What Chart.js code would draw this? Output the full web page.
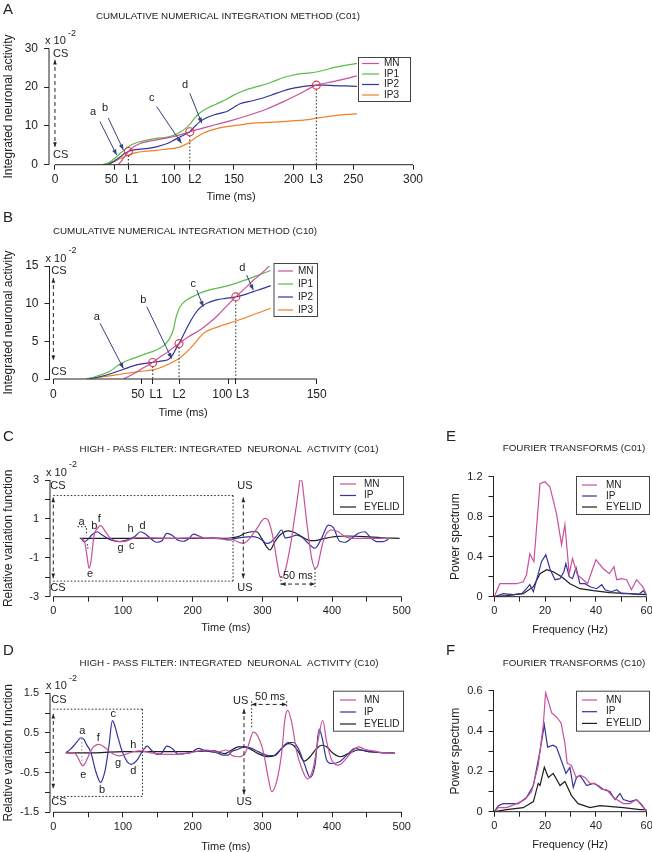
<!DOCTYPE html>
<html>
<head>
<meta charset="utf-8">
<script src="https://cdn.jsdelivr.net/npm/chart.js@4.4.1/dist/chart.umd.min.js"></script>
<style>
  html, body { margin: 0; padding: 0; background: #fff; }
  #wrap { position: relative; width: 652px; height: 852px; overflow: hidden; }
  canvas { position: absolute; left: 0; top: 0; }
</style>
</head>
<body>
<div id="wrap">
  <canvas id="cA" width="652" height="852"></canvas>
  <canvas id="cB" width="652" height="852"></canvas>
  <canvas id="cC" width="652" height="852"></canvas>
  <canvas id="cD" width="652" height="852"></canvas>
  <canvas id="cE" width="652" height="852"></canvas>
  <canvas id="cF" width="652" height="852"></canvas>
</div>
<script>
// ---------- A: cumulative integration (C01), values in 10^-2 ----------
const aTicks = [0, 50, 61.5, 100, 113, 150, 200, 219, 250, 300];
const aTickLabels = ['0', '50  ', '  L1', '100  ', '   L2', '150', '200', 'L3', '250', '300'];
const aYTicks = [0, 10, 20, 30];
const aYLabels = ['0', '10', '20', '30'];
const aMNx = [53, 57, 61.5, 66, 71, 78, 85, 92, 99, 106, 113, 120, 127, 138, 149, 163, 177, 191, 205, 219, 233, 243, 253];
const aMNy = [0, 1.5, 3.4, 4.6, 5.4, 6.0, 6.4, 6.8, 7.2, 7.8, 8.5, 9.1, 9.7, 10.6, 11.5, 12.8, 14.3, 16.2, 18.3, 20.5, 21.4, 22.1, 22.9];
const aIP1x = [40, 45, 50, 55, 61.5, 66, 71, 78, 85, 92, 99, 105, 110, 113, 117, 121.5, 128, 135, 142, 149, 156, 163, 170, 177, 184, 191, 198, 205, 212, 219, 226, 233, 243, 253];
const aIP1y = [0, 0.5, 1.6, 3.0, 4.6, 5.4, 5.9, 6.4, 6.8, 7.0, 7.5, 8.4, 9.5, 10.4, 12.0, 13.4, 14.6, 15.6, 16.6, 17.8, 18.8, 19.6, 20.2, 20.8, 21.6, 22.4, 23.0, 23.4, 23.6, 23.9, 24.4, 25.0, 25.6, 26.1];
const aIP2x = [43, 48, 54.5, 58, 61.5, 66, 71, 78, 85, 93.5, 99, 105, 110, 113, 117, 121.5, 127, 133, 139, 144, 150, 155, 163, 172, 181, 191, 198, 205, 212, 219, 226, 233, 243, 253];
const aIP2y = [0, 0.6, 2.0, 2.8, 3.4, 3.8, 4.0, 4.2, 4.6, 5.4, 6.2, 7.2, 8.0, 8.5, 9.8, 11.1, 12.1, 12.8, 13.3, 13.7, 14.8, 15.7, 16.3, 17.0, 17.9, 19.0, 19.6, 20.0, 20.3, 20.5, 20.5, 20.4, 20.3, 20.2];
const aIP3x = [40, 48, 55, 61.5, 68, 74, 85, 93.5, 99, 105, 110, 113, 118, 124, 131, 138, 149, 158, 166, 178, 191, 205, 212, 219, 226, 233, 243, 253];
const aIP3y = [0, 0.6, 1.6, 2.5, 3.1, 3.4, 3.7, 4.0, 4.2, 4.6, 5.3, 5.9, 7.0, 8.1, 8.9, 9.5, 10.0, 10.4, 10.7, 10.9, 11.1, 11.4, 11.6, 12.0, 12.3, 12.6, 12.9, 13.1];
const aLx = [61.5, 113, 219];
const aLy = [3.4, 8.5, 20.5];
const aArrowNames = ['a', 'b', 'c', 'd'];
const aArrowText = [[32, 13.6], [42, 14.6], [81, 17.1], [109, 20.5]];
const aArrowFrom = [[37.7, 11.1], [44.7, 12.0], [85.2, 15], [113, 18.4]];
const aArrowTo = [[51.7, 2.5], [57.3, 3.8], [106, 5.5], [123, 10.7]];

// ---------- B: cumulative integration (C10) ----------
const bTicks = [0, 50, 56.6, 71.6, 100, 103.9, 150];
const bTickLabels = ['0', '50  ', '  L1', 'L2', '100    ', '    L3', '150'];
const bYTicks = [0, 5, 10, 15];
const bYLabels = ['0', '5', '10', '15'];
const bMNx = [40, 45, 50, 56.6, 60, 64.6, 68, 71.6, 77, 83.5, 88, 93, 98, 103.9, 109, 113.9, 119, 123.8];
const bMNy = [0, 0.6, 1.3, 2.2, 2.8, 3.5, 4.1, 4.7, 5.6, 6.5, 7.3, 8.3, 9.5, 10.9, 12.0, 13.1, 14.1, 15.2];
const bIP1x = [19, 25, 32, 38, 45, 52, 58, 62.7, 66, 68.3, 70, 72.2, 76, 80, 83.5, 90, 96, 102.5, 110, 117, 123.8];
const bIP1y = [0, 0.4, 1.0, 2.0, 2.7, 3.3, 3.8, 4.4, 5.3, 6.5, 8.3, 9.6, 10.5, 11.0, 11.4, 11.9, 12.2, 12.6, 13.2, 13.8, 14.4];
const bIP2x = [19, 30, 40, 48, 56.6, 62, 65.5, 68, 70, 71.6, 74, 77, 79.7, 82.5, 85.4, 89, 93, 98, 103.9, 109, 113.9, 119, 123.8];
const bIP2y = [0, 0.5, 1.3, 1.9, 2.2, 2.4, 2.6, 3.2, 4.1, 4.7, 5.8, 7.2, 8.3, 9.2, 9.8, 10.2, 10.5, 10.7, 10.9, 11.2, 11.6, 12.0, 12.4];
const bIP3x = [19, 30, 40, 49.4, 56.6, 62, 68.3, 72, 76, 80, 83.5, 87, 91, 96, 102.5, 110, 117, 123.8];
const bIP3y = [0, 0.35, 0.7, 1.0, 1.2, 1.6, 2.3, 2.8, 3.6, 4.6, 5.6, 6.3, 6.7, 7.1, 7.6, 8.2, 8.8, 9.4];
const bLx = [56.6, 71.6, 103.9];
const bLy = [2.2, 4.7, 10.9];
const bArrowNames = ['a', 'b', 'c', 'd'];
const bArrowText = [[24.7, 8.3], [51.2, 10.5], [79.7, 12.6], [107.6, 14.8]];
const bArrowFrom = [[26.6, 7.4], [53.2, 9.6], [81.7, 11.8], [110.1, 13.8]];
const bArrowTo = [[39.9, 1.4], [67.4, 2.7], [85.4, 9.6], [113.9, 11.8]];

// ---------- C / D: high-pass filtered activity ----------
const timeTicks = [0, 50, 100, 150, 200, 250, 300, 350, 400, 450, 500];
const timeLabels = ['0', '', '100', '', '200', '', '300', '', '400', '', '500'];
const cYTicks = [-3, -2, -1, 0, 1, 2, 3];
const cYLabels = ['-3', '', '-1', '', '1', '', '3'];
const cMNx = [40, 45, 48, 51.4, 54, 58.6, 63, 68, 75, 82, 92, 101, 111, 120, 140, 170, 200, 230, 250, 260, 266, 272.7, 282, 288, 294, 299, 304, 308, 311, 315, 318, 322, 325.4, 329, 332.5, 337, 342, 346, 349, 352, 354, 356.5, 358.8, 361, 363.6, 367, 370.8, 375.6, 379, 382.8, 387, 392.3, 399.5, 409, 418.7, 430, 445, 460, 480];
const cMNy = [0, -0.2, -0.8, -1.54, -1.2, 0.17, 0.5, 0.65, 0.34, 0, -0.14, -0.17, -0.05, 0.03, 0.02, 0, 0.02, 0, -0.05, -0.1, -0.2, -0.26, 0, 0.3, 0.6, 0.9, 1.03, 0.95, 0.68, 0.1, -0.51, -1.4, -1.97, -2.0, -1.71, -1.0, 0, 1.0, 1.71, 2.5, 3.0, 3.0, 2.4, 1.7, 0.86, -0.1, -1.03, -1.54, -1.45, -0.86, -0.2, 0.26, 0.43, 0.34, 0.09, 0, 0, 0, 0];
const cIPx = [40, 44, 49, 56, 63, 70, 78, 86, 94, 102, 110, 117, 125, 133, 141, 148, 156, 163, 171, 179, 187, 195, 201, 209, 218, 228, 240, 252, 262, 272, 284, 294, 300, 306, 313, 320, 327.7, 333, 340, 349, 357, 366, 375.6, 385, 394.7, 402, 411, 419, 428, 438, 447, 455, 464, 473, 481];
const cIPy = [0, -0.17, -0.08, 0.2, 0.34, 0.17, 0, -0.12, -0.17, -0.12, -0.02, 0.1, 0.34, 0.2, -0.05, -0.2, -0.12, 0.26, 0.15, -0.1, -0.15, 0, 0.22, 0.12, 0, 0.03, 0, -0.08, 0, 0.05, 0.09, 0.03, -0.1, -0.26, -0.17, 0.1, 0.43, 0.02, 0.06, 0.17, 0.05, -0.26, -0.51, 0, 0.68, 0.55, -0.15, -0.2, 0, 0.26, 0.34, 0.05, -0.17, -0.17, -0.05];
const cEYEx = [38, 100, 200, 246, 256, 265.5, 275, 284.7, 292, 299, 306, 311, 318, 325.4, 337, 347, 356.5, 366, 373, 380, 390, 404, 423, 447, 471, 497];
const cEYEy = [0, 0, 0, 0, 0.03, 0.09, 0.26, 0.34, 0.34, 0, -0.43, -0.6, -0.17, 0.17, 0.38, 0.29, 0.09, -0.09, -0.12, -0.09, 0, 0.09, 0.12, 0.09, 0.03, 0];
const cLetters = ['a', 'b', 'f', 'h', 'd', 'g', 'c', 'e'];
const cLetterX = [40.7, 59, 66, 111, 128, 96.7, 112.5, 52.7];
const cLetterY = [0.85, 0.64, 0.99, 0.47, 0.64, -0.5, -0.39, -1.84];

const dYTicks = [-1.5, -1, -0.5, 0, 0.5, 1, 1.5];
const dYLabels = ['-1.5', '', '-0.5', '', '0.5', '', '1.5'];
const dMNx = [18, 30, 34.8, 38, 42, 46, 49, 56, 65.7, 75, 84.8, 94, 103.8, 113, 125, 140, 160, 180, 201, 220.5, 235, 249, 256, 265.5, 275, 280, 287, 294, 301.4, 308.6, 313.4, 320.6, 328, 332.5, 336.4, 342, 349.3, 356.5, 365, 373, 380.4, 386.7, 392.3, 399.5, 409, 418.7, 430.6, 437.8, 447, 461.7, 476, 490];
const dMNy = [0, 0, -0.1, -0.22, -0.33, -0.26, -0.14, 0.11, 0.21, 0.12, -0.02, -0.08, -0.04, 0.02, 0.05, 0, -0.04, -0.04, 0.02, 0.07, 0.02, 0.07, -0.06, -0.1, -0.02, 0.19, 0.52, 0.4, 0.03, -0.64, -0.98, -0.72, 0.03, 0.86, 1.07, 0.78, 0.03, -0.39, -0.66, -0.39, 0.36, 0.82, 0.28, -0.18, -0.31, -0.18, 0.07, 0.15, 0.09, 0.04, 0, 0];
const dIPx = [18, 24, 30, 35, 39.5, 44, 48, 53.8, 61, 68, 72, 75, 80, 84.8, 88, 92, 99, 106, 112, 120.5, 127.6, 134.8, 140.5, 149, 155, 163, 170.5, 180, 187, 197, 208.6, 215.7, 225, 235, 244, 251, 256, 265.5, 275, 284.7, 294, 308.6, 318, 327.7, 337, 344.5, 351.7, 361, 368.4, 375.6, 381.5, 386, 392.3, 399.5, 411.5, 423.5, 433, 442.6, 457, 471, 490];
const dIPy = [0, 0.08, 0.19, 0.3, 0.38, 0.34, 0.2, 0.02, -0.47, -0.75, -0.6, -0.39, 0.19, 0.81, 0.7, 0.44, 0.03, -0.22, -0.29, -0.18, 0.03, 0.17, 0.07, -0.04, -0.02, 0.17, 0.11, -0.04, -0.02, 0, 0.11, 0.07, 0.03, 0, -0.06, -0.06, 0.03, 0.09, 0.15, 0.11, 0.03, -0.07, -0.07, 0.11, 0.26, 0.26, 0.11, -0.31, -0.62, -0.31, 0.6, 0.36, -0.18, -0.27, -0.22, -0.02, 0.11, 0.07, 0.03, 0, 0];
const dEYEx = [18, 60, 100, 150, 200, 230, 246, 256, 265.5, 275, 284.7, 294, 308.6, 318, 327.7, 337, 344.5, 351.7, 360, 368.4, 378, 385, 392.3, 402, 411.5, 423.5, 437.8, 457, 490];
const dEYEy = [0, 0, 0.03, 0.03, 0.03, 0.05, -0.02, 0.07, 0.15, 0.15, 0.07, -0.02, -0.1, -0.06, 0.11, 0.23, 0.19, 0.03, -0.21, -0.1, 0.11, 0.19, 0.15, -0.02, -0.1, -0.02, 0.07, 0.02, 0];
const dLetters = ['a', 'e', 'f', 'c', 'b', 'g', 'h', 'd'];
const dLetterX = [41.6, 43, 64.6, 86, 70, 93, 115, 115];
const dLetterY = [0.56, -0.55, 0.38, 0.98, -0.94, -0.25, 0.21, -0.47];

// ---------- E / F: Fourier transforms ----------
const hzTicks = [0, 10, 20, 30, 40, 50, 60];
const hzLabels = ['0', '', '20', '', '40', '', '60'];
const eYTicks = [0, 0.2, 0.4, 0.6, 0.8, 1.0, 1.2];
const eYLabels = ['0', '', '0.4', '', '0.8', '', '1.2'];
const eMNx = [0, 2.2, 5.5, 8.8, 11.4, 12.7, 14, 15.6, 18, 19.9, 21.9, 24.5, 26.5, 27.8, 29.5, 30.8, 32.7, 35, 36.7, 40, 42.9, 45.3, 47.1, 48.2, 50.1, 52.1, 54, 56, 58.4, 60];
const eMNy = [0, 0.13, 0.13, 0.13, 0.15, 0.22, 0.43, 0.35, 1.13, 1.15, 1.1, 0.83, 0.52, 0.72, 0.23, 0.38, 0.22, 0.17, 0.13, 0.37, 0.28, 0.23, 0.3, 0.17, 0.18, 0.17, 0.07, 0.17, 0.1, 0.02];
const eIPx = [0, 3.5, 7.5, 10.8, 12.7, 14, 15.4, 18.6, 20.3, 21.9, 23.9, 25.9, 27.4, 28.2, 29.5, 30.8, 32.2, 33.7, 35.7, 37.7, 40.3, 42.3, 43.6, 46.2, 48.2, 50.1, 53.4, 56.7, 58.7, 60];
const eIPy = [0, 0.03, 0.02, 0.03, 0.08, 0.12, 0.05, 0.35, 0.42, 0.28, 0.17, 0.18, 0.25, 0.33, 0.2, 0.18, 0.29, 0.13, 0.13, 0.1, 0.08, 0.12, 0.07, 0.05, 0.07, 0.03, 0.03, 0.02, 0.06, 0.01];
const eEYEx = [0, 4.9, 11.4, 15.4, 18, 20.6, 23.2, 26.5, 29.8, 33.7, 39, 45.5, 53.4, 60];
const eEYEy = [0, 0.01, 0.03, 0.1, 0.23, 0.27, 0.25, 0.2, 0.13, 0.08, 0.06, 0.04, 0.03, 0.02];

const fYTicks = [0, 0.1, 0.2, 0.3, 0.4, 0.5, 0.6];
const fYLabels = ['0', '', '0.2', '', '0.4', '', '0.6'];
const fMNx = [0, 1.6, 4.9, 8.8, 12.1, 14.7, 17.3, 19.3, 20.2, 21.7, 22.6, 24.5, 26.3, 27.8, 28.7, 30.4, 32.2, 34, 35.7, 37.7, 39.6, 42.3, 44.2, 46.9, 50.8, 53.4, 56, 58.7, 60];
const fMNy = [0, 0.02, 0.02, 0.04, 0.06, 0.1, 0.23, 0.43, 0.59, 0.53, 0.49, 0.47, 0.44, 0.34, 0.24, 0.23, 0.17, 0.18, 0.17, 0.14, 0.14, 0.11, 0.11, 0.07, 0.04, 0.04, 0.06, 0.02, 0];
const fIPx = [0, 1.6, 3.5, 6.2, 9.4, 12.7, 15.4, 18, 19.7, 21, 23.2, 24.5, 26.5, 28.2, 29.8, 31.1, 32.4, 33.7, 36.4, 39, 40.9, 42.9, 45.5, 47.5, 49.5, 50.8, 53.4, 56, 57.7, 60];
const fIPy = [0, 0.03, 0.04, 0.04, 0.04, 0.07, 0.13, 0.3, 0.43, 0.32, 0.33, 0.32, 0.25, 0.19, 0.22, 0.12, 0.17, 0.18, 0.13, 0.14, 0.13, 0.11, 0.1, 0.06, 0.09, 0.06, 0.05, 0.06, 0.04, 0];
const fEYEx = [0, 4.9, 11.4, 15.4, 17.3, 18, 19.7, 21.3, 23.2, 25.9, 27.8, 30.4, 33, 37.7, 41.6, 50.8, 57.4, 60];
const fEYEy = [0, 0.01, 0.02, 0.05, 0.14, 0.13, 0.22, 0.17, 0.19, 0.13, 0.15, 0.08, 0.04, 0.02, 0.03, 0.02, 0.01, 0.01];

// ---------- drawing ----------
Chart.defaults.font.family = '"Liberation Sans", Arial, sans-serif';
const INK = '#222';
const MN_C = '#c8509c', IP_C = '#34349a', EYE_C = '#1e1e1e', IP1_C = '#5dbb4a', IP3_C = '#f07f22';
const ARROW_C = '#35407e', CIRCLE_C = '#e0393e';
const DOT = [1.5, 2], DASH = [4, 3];

const pts = (xs, ys) => xs.map((x, i) => ({ x, y: ys[i] }));
function series(label, xs, ys, color, smooth) {
  return {
    label, data: pts(xs, ys), borderColor: color, borderWidth: 1.2,
    pointRadius: 0, fill: false,
    tension: smooth ? 0.4 : 0, cubicInterpolationMode: smooth ? 'monotone' : 'default'
  };
}

function seg(ctx, x1, y1, x2, y2, dash) {
  ctx.setLineDash(dash || []);
  ctx.beginPath(); ctx.moveTo(x1, y1); ctx.lineTo(x2, y2); ctx.stroke();
  ctx.setLineDash([]);
}
function poly(ctx, p, dash) {
  ctx.setLineDash(dash || []);
  ctx.beginPath(); ctx.moveTo(p[0][0], p[0][1]);
  p.slice(1).forEach(q => ctx.lineTo(q[0], q[1]));
  ctx.stroke(); ctx.setLineDash([]);
}
function head(ctx, x1, y1, x2, y2, size) {
  const ang = Math.atan2(y2 - y1, x2 - x1);
  ctx.beginPath(); ctx.moveTo(x2, y2);
  ctx.lineTo(x2 - size * Math.cos(ang - 0.38), y2 - size * Math.sin(ang - 0.38));
  ctx.lineTo(x2 - size * Math.cos(ang + 0.38), y2 - size * Math.sin(ang + 0.38));
  ctx.closePath(); ctx.fill();
}
function dbl(ctx, x1, y1, x2, y2, dash) {
  seg(ctx, x1, y1, x2, y2, dash);
  head(ctx, x2, y2, x1, y1, 5); head(ctx, x1, y1, x2, y2, 5);
}
function txt(ctx, s, x, y, size, align) {
  ctx.font = size + 'px "Liberation Sans", Arial, sans-serif';
  ctx.textAlign = align || 'center'; ctx.textBaseline = 'middle';
  ctx.fillText(s, x, y);
}

function drawLegend(ctx, chart, L) {
  ctx.fillStyle = '#fff'; ctx.strokeStyle = '#444'; ctx.lineWidth = 1;
  ctx.fillRect(L.x, L.y, L.w, L.h); ctx.strokeRect(L.x + 0.5, L.y + 0.5, L.w, L.h);
  chart.data.datasets.forEach((d, i) => {
    const y = L.y + L.first + i * L.step;
    ctx.strokeStyle = d.borderColor; ctx.lineWidth = 1.2;
    seg(ctx, L.x + L.l1, y, L.x + L.l2, y);
    ctx.fillStyle = INK; txt(ctx, d.label, L.x + L.tx, y, 10, 'left');
  });
}

function panel(id, p) {
  const yW = p.l - p.yTitleX + 7;
  const xH = p.xTitleY - p.b + 5.5;
  const scaleBase = (ticks, labels, size) => ({
    border: { display: false },
    grid: { drawOnChartArea: false, tickLength: 5, color: INK, tickColor: INK },
    afterBuildTicks: s => { s.ticks = ticks.map(v => ({ value: v })); },
    ticks: { autoSkip: false, maxRotation: 0, minRotation: 0, color: INK,
      font: { size }, callback: (v, i) => labels[i] }
  });
  const x = Object.assign(scaleBase(p.xTicks, p.xLabels, p.tick), {
    type: 'linear', min: p.xMin, max: p.xMax,
    afterFit: s => { s.height = xH; s.paddingLeft = 0; s.paddingRight = 0; },
    title: { display: true, text: p.xTitle, color: INK, font: { size: 11, lineHeight: 1 }, padding: 0 }
  });
  x.ticks.padding = 3;
  const y = Object.assign(scaleBase(p.yTicks, p.yLabels, p.tick), {
    type: 'linear', min: p.yMin, max: p.yMax,
    afterFit: s => { s.width = yW; s.paddingTop = 0; s.paddingBottom = 0; },
    title: { display: true, text: p.yTitle, color: INK, font: { size: 12, lineHeight: 1 }, padding: { top: 1, bottom: 0 } }
  });
  y.ticks.padding = 6;
  return new Chart(document.getElementById(id), {
    type: 'line',
    data: { datasets: p.datasets },
    options: {
      responsive: false, animation: false, events: [],
      layout: { padding: { left: p.l - yW, top: p.t, right: 652 - p.r, bottom: 852 - p.b - xH } },
      plugins: { legend: { display: false }, tooltip: { enabled: false } },
      scales: { x, y }
    },
    plugins: [{
      id: 'deco',
      afterDraw(c) {
        const ctx = c.ctx, a = c.chartArea;
        const X = v => c.scales.x.getPixelForValue(v), Y = v => c.scales.y.getPixelForValue(v);
        ctx.save();
        ctx.strokeStyle = INK; ctx.fillStyle = INK; ctx.lineWidth = 1;
        seg(ctx, a.left, Y(p.yMin), a.left, Y(p.yMax));
        seg(ctx, X(p.xAxisFrom), a.bottom, X(p.xMax), a.bottom);
        if (p.deco) { ctx.strokeStyle = INK; ctx.fillStyle = INK; p.deco(ctx, X, Y, a); }
        drawLegend(ctx, c, p.legend);
        ctx.fillStyle = INK;
        txt(ctx, p.title, p.titleX, p.titleY, 9.8);
        txt(ctx, p.letter, p.letterX, p.letterY, 15, 'left');
        if (p.mult) {
          txt(ctx, 'x 10', a.left - 4, a.top - 7, 11, 'left');
          txt(ctx, '-2', a.left + 19, a.top - 15, 9, 'left');
        }
        ctx.restore();
      }
    }]
  });
}

function cumulativeDeco(lx, ly, names, tPos, from, to, cs) {
  return (ctx, X, Y, a) => {
    dbl(ctx, X(0), Y(cs[0]), X(0), Y(cs[1]), DASH);
    txt(ctx, 'CS', X(0) - 2, Y(cs[2]), 11, 'left');
    txt(ctx, 'CS', X(0) - 2, Y(cs[3]), 11, 'left');
    ctx.strokeStyle = INK;
    lx.forEach((x, i) => seg(ctx, X(x), Y(ly[i]) + 4, X(x), a.bottom, DOT));
    ctx.strokeStyle = CIRCLE_C; ctx.lineWidth = 1.1;
    lx.forEach((x, i) => { ctx.beginPath(); ctx.arc(X(x), Y(ly[i]), 4, 0, Math.PI * 2); ctx.stroke(); });
    ctx.strokeStyle = ARROW_C; ctx.fillStyle = ARROW_C; ctx.lineWidth = 1;
    names.forEach((n, i) => {
      const x1 = X(from[i][0]), y1 = Y(from[i][1]), x2 = X(to[i][0]), y2 = Y(to[i][1]);
      seg(ctx, x1, y1, x2, y2); head(ctx, x1, y1, x2, y2, 6);
    });
    ctx.fillStyle = INK;
    names.forEach((n, i) => txt(ctx, n, X(tPos[i][0]), Y(tPos[i][1]), 11));
  };
}

const legendBox = (x, y, w, h, first, step, l1, l2, tx) => ({ x, y, w, h, first, step, l1, l2, tx });

panel('cA', {
  l: 49, r: 413, t: 48.3, b: 164.7, xMin: -5, xMax: 300, yMin: 0, yMax: 30, xAxisFrom: 0,
  xTicks: aTicks, xLabels: aTickLabels, yTicks: aYTicks, yLabels: aYLabels, tick: 12,
  xTitle: 'Time (ms)', xTitleY: 197, yTitle: 'Integrated neuronal activity', yTitleX: 9,
  datasets: [
    series('MN', aMNx, aMNy, MN_C, true), series('IP1', aIP1x, aIP1y, IP1_C, true),
    series('IP2', aIP2x, aIP2y, IP_C, true), series('IP3', aIP3x, aIP3y, IP3_C, true)
  ],
  legend: legendBox(358, 57, 52, 44, 6.5, 10.5, 4, 21, 26),
  title: 'CUMULATIVE NUMERICAL INTEGRATION METHOD (C01)', titleX: 228, titleY: 16,
  letter: 'A', letterX: 3, letterY: 10, mult: true,
  deco: cumulativeDeco(aLx, aLy, aArrowNames, aArrowText, aArrowFrom, aArrowTo, [27, 4.6, 28.6, 2.5])
});

panel('cB', {
  l: 49.5, r: 316.7, t: 266, b: 379, xMin: -2.2, xMax: 150, yMin: 0, yMax: 15, xAxisFrom: 0,
  xTicks: bTicks, xLabels: bTickLabels, yTicks: bYTicks, yLabels: bYLabels, tick: 12,
  xTitle: 'Time (ms)', xTitleY: 413, yTitle: 'Integrated neuronal activity', yTitleX: 9,
  datasets: [
    series('MN', bMNx, bMNy, MN_C, true), series('IP1', bIP1x, bIP1y, IP1_C, true),
    series('IP2', bIP2x, bIP2y, IP_C, true), series('IP3', bIP3x, bIP3y, IP3_C, true)
  ],
  legend: legendBox(273.5, 263, 43.5, 53, 8, 13, 4.5, 19.5, 24.5),
  title: 'CUMULATIVE NUMERICAL INTEGRATION METHOD (C10)', titleX: 185, titleY: 231,
  letter: 'B', letterX: 3, letterY: 218, mult: true,
  deco: cumulativeDeco(bLx, bLy, bArrowNames, bArrowText, bArrowFrom, bArrowTo, [13.4, 2.5, 14.3, 0.9])
});

panel('cC', {
  l: 50, r: 401.7, t: 480, b: 596.7, xMin: -4.7, xMax: 500, yMin: -3, yMax: 3, xAxisFrom: 0,
  xTicks: timeTicks, xLabels: timeLabels, yTicks: cYTicks, yLabels: cYLabels, tick: 11,
  xTitle: 'Time (ms)', xTitleY: 628, yTitle: 'Relative variation function', yTitleX: 9,
  datasets: [
    series('MN', cMNx, cMNy, MN_C, true), series('IP', cIPx, cIPy, IP_C, true),
    series('EYELID', cEYEx, cEYEy, EYE_C, true)
  ],
  legend: legendBox(333, 476, 70, 38, 8, 11.5, 7, 23, 31),
  title: 'HIGH - PASS FILTER: INTEGRATED  NEURONAL  ACTIVITY (C01)', titleX: 229, titleY: 449,
  letter: 'C', letterX: 3, letterY: 437, mult: true,
  deco: (ctx, X, Y) => {
    seg(ctx, X(0), Y(2.2), X(258), Y(2.2), DOT);
    seg(ctx, X(258), Y(2.2), X(258), Y(-2.2), DOT);
    seg(ctx, X(0), Y(-2.2), X(258), Y(-2.2), DOT);
    dbl(ctx, X(0), Y(2.1), X(0), Y(-2.05), DASH);
    dbl(ctx, X(272.7), Y(2.1), X(272.7), Y(-2.05), DASH);
    txt(ctx, 'CS', X(0) - 3, Y(2.7), 11, 'left'); txt(ctx, 'CS', X(0) - 3, Y(-2.55), 11, 'left');
    txt(ctx, 'US', X(275), Y(2.7), 11); txt(ctx, 'US', X(275), Y(-2.55), 11);
    cLetters.forEach((s, i) => txt(ctx, s, X(cLetterX[i]), Y(cLetterY[i]), 11));
    poly(ctx, [[X(34.8), Y(0.6)], [X(47.6), Y(0.6)], [X(47.6), Y(0.15)]], DOT);
    poly(ctx, [[X(49), Y(-0.3)], [X(49), Y(-0.5)], [X(54), Y(-0.5)]], DOT);
    seg(ctx, X(326.8), Y(-1.95), X(326.8), Y(-2.5), DOT);
    seg(ctx, X(375.6), Y(-1.55), X(375.6), Y(-2.5), DOT);
    dbl(ctx, X(326.8), Y(-2.35), X(375.6), Y(-2.35), DASH);
    txt(ctx, '50 ms', X(351), Y(-1.93), 11);
  }
});

panel('cD', {
  l: 50, r: 401.7, t: 693.3, b: 812.3, xMin: -4.7, xMax: 500, yMin: -1.5, yMax: 1.5, xAxisFrom: 0,
  xTicks: timeTicks, xLabels: timeLabels, yTicks: dYTicks, yLabels: dYLabels, tick: 11,
  xTitle: 'Time (ms)', xTitleY: 846.5, yTitle: 'Relative variation function', yTitleX: 9,
  datasets: [
    series('MN', dMNx, dMNy, MN_C, true), series('IP', dIPx, dIPy, IP_C, true),
    series('EYELID', dEYEx, dEYEy, EYE_C, true)
  ],
  legend: legendBox(333, 690.7, 70, 40, 9.3, 12, 7, 23, 31),
  title: 'HIGH - PASS FILTER: INTEGRATED  NEURONAL  ACTIVITY (C10)', titleX: 229, titleY: 663,
  letter: 'D', letterX: 3, letterY: 651, mult: true,
  deco: (ctx, X, Y) => {
    seg(ctx, X(0), Y(1.1), X(128), Y(1.1), DOT);
    seg(ctx, X(128), Y(1.1), X(128), Y(-1.1), DOT);
    seg(ctx, X(0), Y(-1.1), X(128), Y(-1.1), DOT);
    dbl(ctx, X(0), Y(0.98), X(0), Y(-0.9), DASH);
    dbl(ctx, X(273.7), Y(1.1), X(273.7), Y(-1.05), DASH);
    txt(ctx, 'CS', X(0) - 2, Y(1.33), 11, 'left'); txt(ctx, 'CS', X(0) - 2, Y(-1.25), 11, 'left');
    txt(ctx, 'US', X(269), Y(1.31), 11); txt(ctx, 'US', X(274), Y(-1.25), 11);
    dLetters.forEach((s, i) => txt(ctx, s, X(dLetterX[i]), Y(dLetterY[i]), 11));
    ctx.strokeStyle = '#888';
    seg(ctx, X(41), Y(0.36), X(41), Y(-0.3), DOT);
    ctx.strokeStyle = INK;
    seg(ctx, X(284.7), Y(1.3), X(284.7), Y(0.6), DOT);
    seg(ctx, X(335), Y(1.3), X(335), Y(1.12), DOT);
    dbl(ctx, X(284.7), Y(1.22), X(335), Y(1.22), DASH);
    txt(ctx, '50 ms', X(311), Y(1.42), 11);
  }
});

panel('cE', {
  l: 493.5, r: 646.7, t: 476.7, b: 596.7, xMin: -0.3, xMax: 60, yMin: 0, yMax: 1.2, xAxisFrom: 0,
  xTicks: hzTicks, xLabels: hzLabels, yTicks: eYTicks, yLabels: eYLabels, tick: 11,
  xTitle: 'Frequency (Hz)', xTitleY: 630, yTitle: 'Power spectrum', yTitleX: 455.5,
  datasets: [
    series('MN', eMNx, eMNy, MN_C, false), series('IP', eIPx, eIPy, IP_C, false),
    series('EYELID', eEYEx, eEYEy, EYE_C, false)
  ],
  legend: legendBox(576, 476, 73, 38, 9, 11, 6, 21, 30),
  title: 'FOURIER TRANSFORMS (C01)', titleX: 574, titleY: 448,
  letter: 'E', letterX: 446, letterY: 437, mult: false
});

panel('cF', {
  l: 493.5, r: 646.7, t: 690.7, b: 811.7, xMin: -0.3, xMax: 60, yMin: 0, yMax: 0.6, xAxisFrom: 0,
  xTicks: hzTicks, xLabels: hzLabels, yTicks: fYTicks, yLabels: fYLabels, tick: 11,
  xTitle: 'Frequency (Hz)', xTitleY: 845, yTitle: 'Power spectrum', yTitleX: 455.5,
  datasets: [
    series('MN', fMNx, fMNy, MN_C, false), series('IP', fIPx, fIPy, IP_C, false),
    series('EYELID', fEYEx, fEYEy, EYE_C, false)
  ],
  legend: legendBox(576, 690.7, 73, 40, 9.3, 11.7, 6, 21, 30),
  title: 'FOURIER TRANSFORMS (C10)', titleX: 574, titleY: 663,
  letter: 'F', letterX: 446, letterY: 651, mult: false
});
</script>
</body>
</html>
